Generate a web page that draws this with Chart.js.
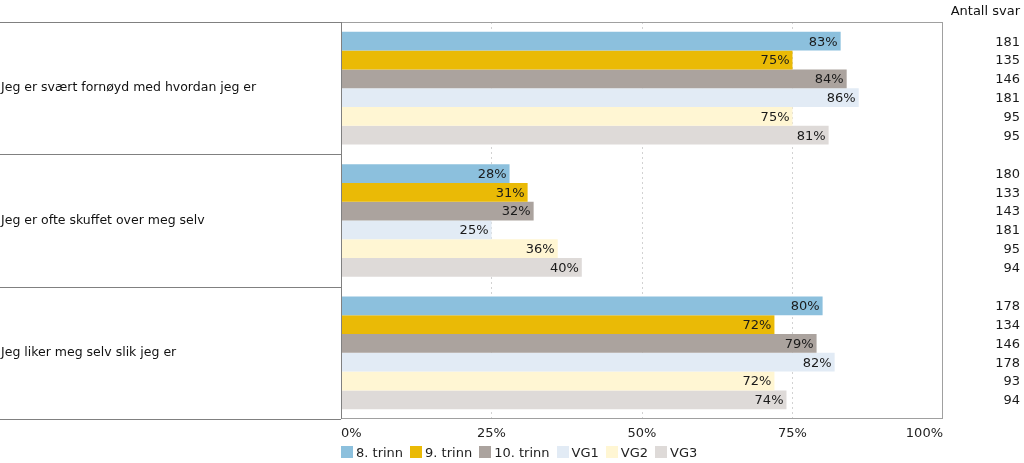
<!DOCTYPE html>
<html>
<head>
<meta charset="utf-8">
<script src="https://cdn.jsdelivr.net/npm/chart.js@4/dist/chart.umd.min.js"></script>
<style>
  html, body { margin: 0; padding: 0; background: #fff; }
  #wrap { position: relative; width: 1024px; height: 463px; }
  #legend { position: absolute; left: 341px; top: 445px; font: 13px "DejaVu Sans", Verdana, sans-serif; color: #222; white-space: nowrap; }
  #legend span.item { display: inline-block; margin-right: 7px; }
  #legend span.box { display: inline-block; width: 12px; height: 12px; vertical-align: -1px; margin-right: 3px; }
</style>
</head>
<body>
<div id="wrap">
  <canvas id="chart" width="1024" height="463"></canvas>
  <div id="legend"></div>
</div>
<script>
// Spørsmål (kategorier)
const sporsmal = [
  "Jeg er svært fornøyd med hvordan jeg er",
  "Jeg er ofte skuffet over meg selv",
  "Jeg liker meg selv slik jeg er"
];

const trinn = ["8. trinn", "9. trinn", "10. trinn", "VG1", "VG2", "VG3"];
const farger = ["#8cc0dd", "#eaba06", "#aba39e", "#e2ebf5", "#fff6d3", "#dedad8"];

// Andel (%) per trinn, i rekkefølge etter spørsmål
const trinn8 = [83, 28, 80];
const trinn9 = [75, 31, 72];
const trinn10 = [84, 32, 79];
const vg1 = [86, 25, 82];
const vg2 = [75, 36, 72];
const vg3 = [81, 40, 74];

// Antall svar
const antall8 = [181, 180, 178];
const antall9 = [135, 133, 134];
const antall10 = [146, 143, 146];
const antallVg1 = [181, 181, 178];
const antallVg2 = [95, 95, 93];
const antallVg3 = [95, 94, 94];

const xTicks = [0, 25, 50, 75, 100];

const verdier = [trinn8, trinn9, trinn10, vg1, vg2, vg3];
const antall = [antall8, antall9, antall10, antallVg1, antallVg2, antallVg3];
const FONT = '"DejaVu Sans", Verdana, sans-serif';

// Venstre tabell, verdietiketter og antall svar
const tabellPlugin = {
  id: "tabell",
  afterDatasetsDraw(chart) {
    const ctx = chart.ctx;
    const area = chart.chartArea;
    const yScale = chart.scales.y;
    ctx.save();

    // ramme rundt plotområdet
    ctx.strokeStyle = "#a0a0a0";
    ctx.lineWidth = 1;
    ctx.strokeRect(Math.round(area.left) + 0.5, Math.round(area.top) + 0.5,
      Math.round(area.right - area.left) - 1, Math.round(area.bottom - area.top) - 1);

    // venstre tabell
    ctx.strokeStyle = "#808080";
    ctx.beginPath();
    const half = (yScale.getPixelForValue(1) - yScale.getPixelForValue(0)) / 2;
    for (let i = 0; i <= sporsmal.length; i++) {
      const y = Math.round(yScale.getPixelForValue(i) - half) + 0.5;
      ctx.moveTo(0, y);
      ctx.lineTo(area.left, y);
    }
    ctx.moveTo(Math.round(area.left) + 0.5, area.top);
    ctx.lineTo(Math.round(area.left) + 0.5, area.bottom);
    ctx.stroke();

    ctx.fillStyle = "#111";
    ctx.font = "12.5px " + FONT;
    ctx.textBaseline = "middle";
    ctx.textAlign = "left";
    sporsmal.forEach((s, i) => ctx.fillText(s, 1, yScale.getPixelForValue(i)));

    // verdier og antall
    ctx.font = "13px " + FONT;
    ctx.textAlign = "right";
    ctx.fillText("Antall svar", 1020, 12);
    chart.data.datasets.forEach((ds, d) => {
      const meta = chart.getDatasetMeta(d);
      meta.data.forEach((bar, i) => {
        ctx.fillStyle = "#1a1a1a";
        ctx.fillText(ds.data[i] + "%", bar.x - 3, bar.y + 1);
        ctx.fillText(String(antall[d][i]), 1020, bar.y + 1);
      });
    });
    ctx.restore();
  }
};

new Chart(document.getElementById("chart"), {
  type: "bar",
  data: {
    labels: sporsmal,
    datasets: trinn.map((t, i) => ({
      label: t,
      data: verdier[i],
      backgroundColor: farger[i],
      barPercentage: 1,
      categoryPercentage: 0.852
    }))
  },
  options: {
    indexAxis: "y",
    responsive: false,
    animation: false,
    layout: { padding: { left: 341, right: 81, top: 22, bottom: 0 } },
    scales: {
      x: {
        min: 0,
        max: 100,
        afterBuildTicks: (scale) => { scale.ticks = xTicks.map(v => ({ value: v })); },
        afterFit: (scale) => { scale.height = 44; },
        border: { display: false, dash: [2, 3] },
        grid: {
          drawTicks: false,
          color: (c) => (c.tick.value === 0 || c.tick.value === 100) ? "rgba(0,0,0,0)" : "#d2d2d2"
        },
        ticks: {
          align: "inner",
          padding: 7,
          color: "#222",
          font: { family: FONT, size: 13 },
          callback: (v) => v + "%"
        }
      },
      y: {
        display: false,
        grid: { display: false }
      }
    },
    plugins: {
      legend: { display: false },
      tooltip: { enabled: false }
    }
  },
  plugins: [tabellPlugin]
});

// legend
const legend = document.getElementById("legend");
trinn.forEach((t, i) => {
  const item = document.createElement("span");
  item.className = "item";
  const box = document.createElement("span");
  box.className = "box";
  box.style.background = farger[i];
  item.appendChild(box);
  item.appendChild(document.createTextNode(t));
  legend.appendChild(item);
});
</script>
</body>
</html>
